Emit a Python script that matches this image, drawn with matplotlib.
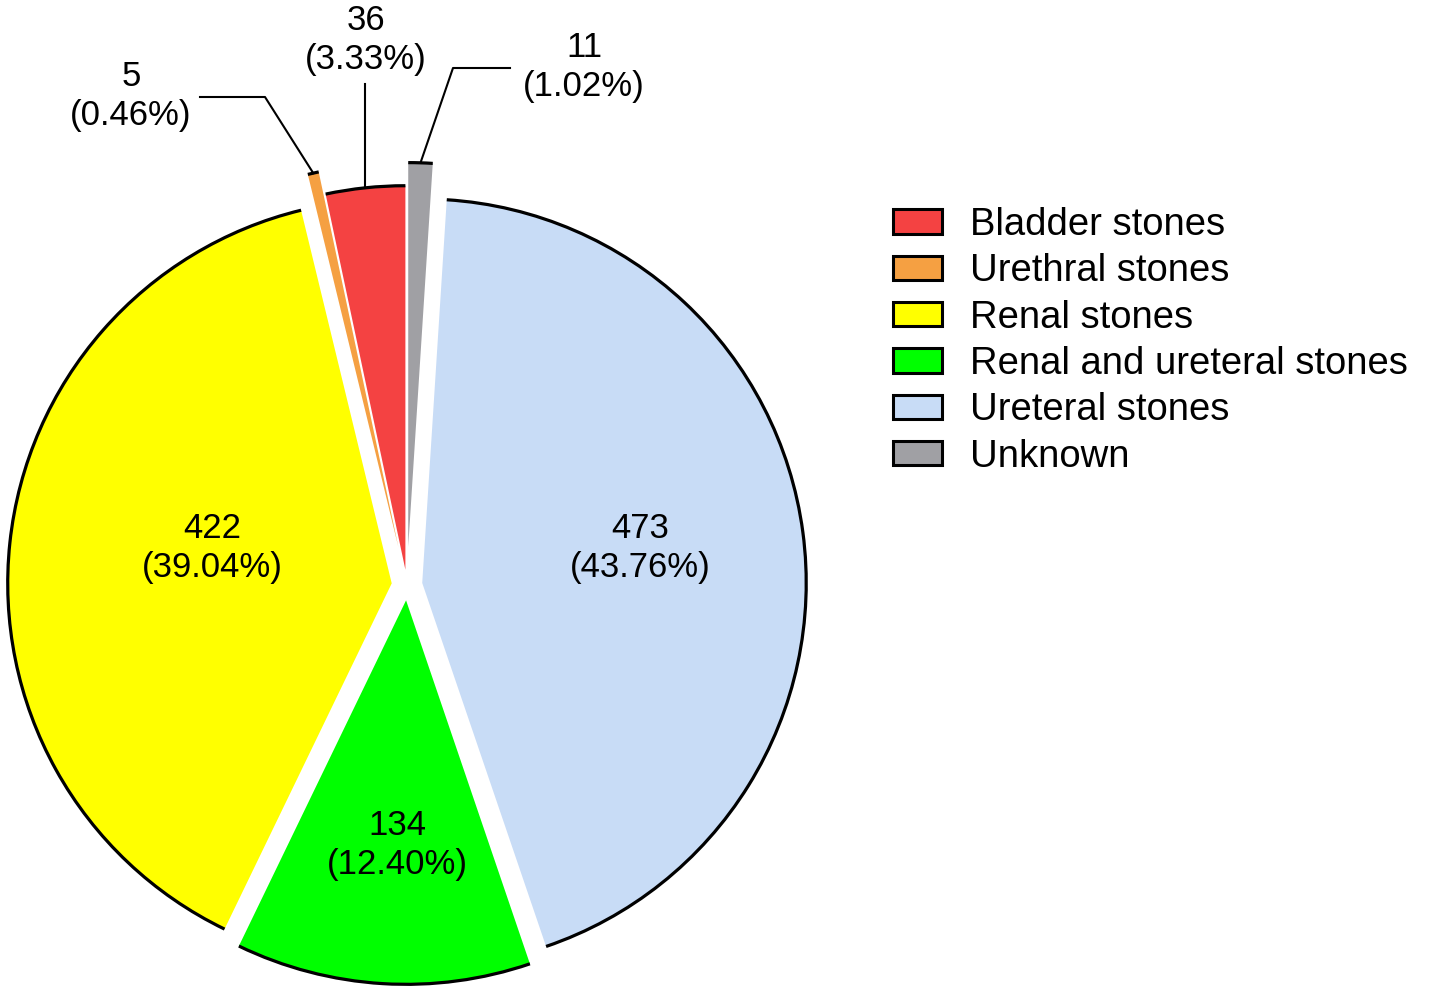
import numpy as np
import matplotlib.pyplot as plt
from matplotlib.patches import Arc, Patch

plt.rcParams['font.family'] = ['Liberation Sans', 'DejaVu Sans']

labels = ["Bladder stones", "Urethral stones", "Renal stones",
          "Renal and ureteral stones", "Ureteral stones", "Unknown"]
counts = [36, 5, 422, 134, 473, 11]
colors = ["#F44242", "#F5A042", "#FFFF00", "#00FF00", "#C8DCF6", "#A0A0A4"]
explode = [0.04, 0.10, 0.04, 0.04, 0.04, 0.10]

W, H = 1429, 993
fig = plt.figure(figsize=(W / 100, H / 100), dpi=100)
ax = fig.add_axes([0, 0, 1, 1])

cx, cy, R = 407, H - 585, 384
# pie's explode is in data units, so scale by radius
wedges, _ = ax.pie(counts, colors=colors, explode=[e * R for e in explode],
                   startangle=90, counterclock=True, center=(cx, cy), radius=R,
                   wedgeprops=dict(linewidth=0))

# black outer arcs only
for w in wedges:
    ax.add_patch(Arc(w.center, 2 * w.r, 2 * w.r, theta1=w.theta1, theta2=w.theta2,
                     color="black", lw=2.3, zorder=3))

total = sum(counts)
txt = ["%d\n(%.2f%%)" % (c, 100 * c / total) for c in counts]
fs = 25

def arc_mid(w):
    a = np.deg2rad((w.theta1 + w.theta2) / 2)
    return w.center[0] + w.r * np.cos(a), w.center[1] + w.r * np.sin(a)

# labels inside big slices
inside = {2: (212, 548), 3: (397, 845), 4: (640, 548)}
for i, (x, y) in inside.items():
    ax.text(x, H - y, txt[i], ha="center", va="center", fontsize=fs, linespacing=1.2)

# outside labels with leader lines
ax.text(366, H - 40, txt[0], ha="center", va="center", fontsize=fs, linespacing=1.2)
mx, my = arc_mid(wedges[0])
ax.plot([mx, mx], [my, H - 84], color="black", lw=1.5)

ax.text(131, H - 96, txt[1], ha="center", va="center", fontsize=fs, linespacing=1.2)
mx, my = arc_mid(wedges[1])
ax.plot([200, 265, mx], [H - 97, H - 97, my], color="black", lw=1.5)

ax.text(584, H - 67, txt[5], ha="center", va="center", fontsize=fs, linespacing=1.2)
mx, my = arc_mid(wedges[5])
ax.plot([510, 453, mx], [H - 68, H - 68, my], color="black", lw=1.5)

ax.set_xlim(0, W)
ax.set_ylim(0, H)
ax.set_aspect("equal")
ax.axis("off")

handles = [Patch(facecolor=c, edgecolor="black", lw=2.2) for c in colors]
fig.legend(handles, labels, loc="upper left", bbox_to_anchor=(893 / W, 1 - 207 / H),
           frameon=False, fontsize=27.5, handlelength=1.28, handleheight=0.6,
           handletextpad=0.73, labelspacing=0.27, borderpad=0, borderaxespad=0)

fig.savefig("out.png", dpi=100)
